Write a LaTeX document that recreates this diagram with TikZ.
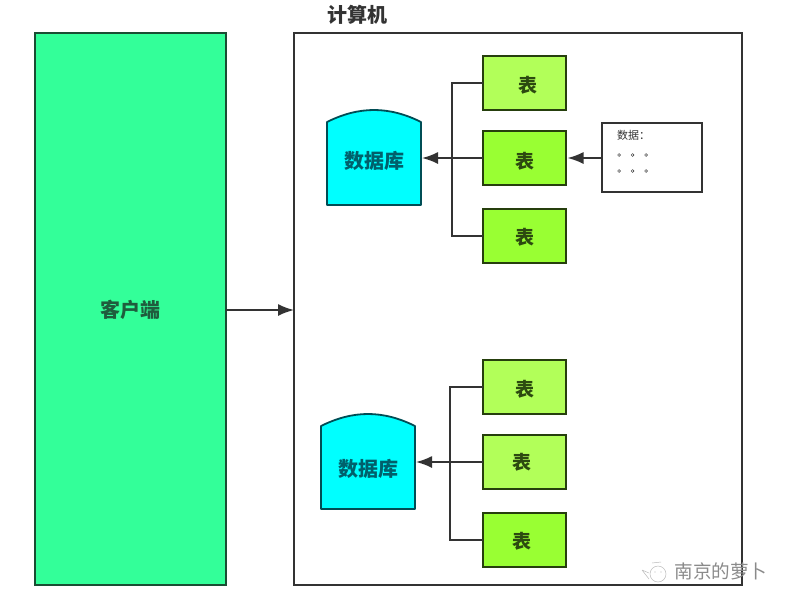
\documentclass[tikz,border=0pt]{standalone}
\usepackage{fontspec}
\setmainfont{Noto Sans CJK SC}
\usetikzlibrary{arrows.meta}
\definecolor{lineC}{HTML}{333333}
\definecolor{clientF}{HTML}{33FF99}
\definecolor{clientD}{HTML}{1A4D33}
\definecolor{clientT}{HTML}{1F5C3D}
\definecolor{dbF}{HTML}{00FFFF}
\definecolor{dbD}{HTML}{004D55}
\definecolor{dbT}{HTML}{00606B}
\definecolor{lightG}{HTML}{B2FF59}
\definecolor{brightG}{HTML}{99FF33}
\definecolor{tabD}{HTML}{263F0D}
\definecolor{tabT}{HTML}{2C4A10}
\definecolor{wmC}{HTML}{8A8A8A}
\tikzset{
  x=1pt,y=-1pt,
  tablebox/.style={draw=tabD,line width=1.8pt,minimum width=83pt,minimum height=54pt,inner sep=0pt,outer sep=0pt},
  tablelabel/.style={font=\bfseries\fontsize{19}{19}\selectfont,text=tabT,inner sep=0pt},
  dbspace/.style={minimum width=94pt,minimum height=95pt,inner sep=0pt,outer sep=0pt},
  dbshape/.style={draw=dbD,line width=1.8pt,fill=dbF,line join=round},
  dblabel/.style={font=\bfseries\fontsize{20}{20}\selectfont,text=dbT,inner sep=0pt},
  conn/.style={draw=lineC,line width=1.7pt},
  arr/.style={draw=lineC,line width=1.7pt,-{Latex[length=16pt,width=12pt]}},
}
\begin{document}
\begin{tikzpicture}
\useasboundingbox (0,0) rectangle (794,606);
\node[draw=clientD,fill=clientF,line width=1.8pt,minimum width=191pt,minimum height=552pt,inner sep=0pt,outer sep=0pt] (client) at (130.5,309) {};
\node[font=\bfseries\fontsize{20}{20}\selectfont,text=clientT,inner sep=0pt] (clientL) at (130.5,310) {客户端};
\node[draw=lineC,line width=1.8pt,minimum width=448pt,minimum height=552pt,inner sep=0pt,outer sep=0pt] (pc) at (518,309) {};
\node[font=\bfseries\fontsize{20}{20}\selectfont,text=lineC,inner sep=0pt] (pcL) at (357,15) {计算机};
% upper tables
\node[tablebox,fill=lightG]  (a1) at (524.5,83)  {};
\node[tablebox,fill=brightG] (a2) at (524.5,158) {};
\node[tablebox,fill=brightG] (a3) at (524.5,236) {};
\node[tablelabel] (a1L) at (528,85)  {表};
\node[tablelabel] (a2L) at (525,161) {表};
\node[tablelabel] (a3L) at (525,237) {表};
% lower tables
\node[tablebox,fill=lightG]  (b1) at (524.5,387) {};
\node[tablebox,fill=lightG]  (b2) at (524.5,462) {};
\node[tablebox,fill=brightG] (b3) at (524.5,540) {};
\node[tablelabel] (b1L) at (525,389) {表};
\node[tablelabel] (b2L) at (522,462) {表};
\node[tablelabel] (b3L) at (522,541) {表};
% databases
\node[dbspace] (d1) at (374,157.5) {};
\node[dbspace] (d2) at (368,461.5) {};
\coordinate (d1l) at ([yshift=35.5pt]d1.west);
\coordinate (d1r) at ([yshift=35.5pt]d1.east);
\coordinate (d2l) at ([yshift=35.5pt]d2.west);
\coordinate (d2r) at ([yshift=35.5pt]d2.east);
\draw[dbshape] (d1.south west) -- (d1l) .. controls ([shift={(32,-16)}]d1l) and ([shift={(-32,-16)}]d1r) .. (d1r) -- (d1.south east) -- cycle;
\draw[dbshape] (d2.south west) -- (d2l) .. controls ([shift={(32,-16)}]d2l) and ([shift={(-32,-16)}]d2r) .. (d2r) -- (d2.south east) -- cycle;
\node[dblabel] (d1L) at (374,161) {数据库};
\node[dblabel] (d2L) at (368,469) {数据库};
% data box
\node[draw=lineC,line width=1.8pt,fill=white,minimum width=100pt,minimum height=69pt,inner sep=0pt,outer sep=0pt] (data) at (652,157.5) {};
\node[font=\fontsize{11}{11}\selectfont,text=lineC,inner sep=0pt,anchor=west] (dataL) at (617,135) {数据：};
\coordinate (dots1) at (619,155);
\coordinate (dots2) at (619,171);
\foreach \r in {dots1,dots2}\foreach \k in {0,13.5,27}
  \draw[lineC,line width=.5pt] ([xshift=\k pt]\r) circle (1.4pt);
% connectors
\draw[conn] (a1.west) -- ++(-31,0) |- (a3.west);
\draw[arr] (a2.west) -- ([xshift=1pt]d1.east |- a2.west);
\draw[arr] (data.west |- a2.east) -- ([xshift=1.5pt]a2.east);
\draw[conn] (b1.west) -- ++(-33,0) |- (b3.west);
\draw[arr] (b2.west) -- ([xshift=1pt]d2.east |- b2.west);
\draw[arr] (client.east |- 0,310) -- (pc.west |- 0,310);
% watermark
\node[font=\fontsize{18.6}{18.6}\selectfont,text=wmC,inner sep=0pt] (wm) at (721,571) {南京的萝卜};
\coordinate (ic) at (658,574);
\draw[wmC!60,line width=.5pt] (ic) circle (8pt);
\fill[wmC!60] ([shift={(-3,-2)}]ic) circle (.7pt) ([shift={(3,-2)}]ic) circle (.7pt);
\draw[wmC!60,line width=.5pt] ([shift={(-16,-4)}]ic) -- ([shift={(-9,-1)}]ic) ([shift={(-16,-4)}]ic) -- ([shift={(-9,5)}]ic) ([shift={(-6,-11)}]ic) -- ([shift={(3,-12)}]ic);
\end{tikzpicture}
\end{document}
